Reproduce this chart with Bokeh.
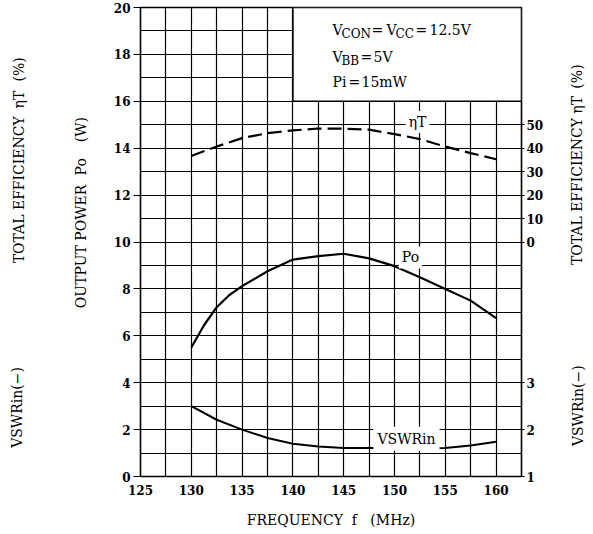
import numpy as np
from bokeh.plotting import figure
from bokeh.models import Range1d, LinearAxis, FixedTicker, Label, BoxAnnotation
from bokeh.layouts import row
from bokeh.embed import file_html
from bokeh.resources import INLINE

# ---------------- data ----------------
freq_po = [130, 131.25, 132.5, 133.75, 135, 137.5, 140, 142.5, 145, 147.5, 150, 152.5, 155, 157.5, 160]
po_w = [5.5, 6.45, 7.22, 7.74, 8.12, 8.75, 9.25, 9.4, 9.5, 9.3, 8.97, 8.5, 8.0, 7.5, 6.75]
freq_eta = [130, 132.5, 135, 137.5, 140, 142.5, 145, 147.5, 150, 152.5, 155, 157.5, 160]
eta_pct = [36.7, 40.7, 44.3, 46.4, 47.6, 48.4, 48.3, 47.9, 46.0, 43.9, 40.7, 37.9, 35.3]
freq_vswr = [130, 132.5, 135, 137.5, 140, 142.5, 145, 147.5, 150, 152.5, 155, 157.5, 160]
vswr_in = [2.5, 2.21, 2.0, 1.82, 1.70, 1.64, 1.61, 1.61, 1.60, 1.60, 1.61, 1.66, 1.74]

x_ticks = [125, 130, 135, 140, 145, 150, 155, 160]
po_ticks = [0, 2, 4, 6, 8, 10, 12, 14, 16, 18, 20]
eta_ticks = [0, 10, 20, 30, 40, 50]
vswr_ticks = [1, 2, 3]
x_grid = [125 + 2.5 * i for i in range(16)]
y_grid = list(range(0, 21))

# scale relations between the axes (Po scale is the main one)
def eta_to_po(e):
    return 10 + e / 10.0

def vswr_to_po(v):
    return 2.0 * (v - 1)

SERIF = "DejaVu Serif"
H = 530
NB = "\u00a0"

# ---------------- main chart ----------------
p = figure(width=460, height=H,
           x_range=Range1d(125, 162.5), y_range=Range1d(0, 20),
           output_backend="svg", toolbar_location=None,
           min_border_left=40, min_border_right=39,
           min_border_top=7, min_border_bottom=52)
p.extra_y_ranges = {"eta": Range1d(-100, 100), "vswr": Range1d(1, 11)}

p.outline_line_color = "black"
p.outline_line_width = 1.6
p.background_fill_color = "white"
p.border_fill_color = "white"

p.xgrid.ticker = FixedTicker(ticks=x_grid)
p.ygrid.ticker = FixedTicker(ticks=y_grid)
for g in (p.xgrid, p.ygrid):
    g.grid_line_color = "black"
    g.grid_line_width = 1.2
    g.grid_line_alpha = 1.0

def style_axis(ax):
    ax.minor_tick_line_color = None
    ax.axis_line_color = None
    ax.major_tick_in = 0
    ax.major_tick_line_width = 1.2
    ax.major_label_text_font = SERIF
    ax.major_label_text_font_style = "bold"
    ax.major_label_text_font_size = "12px"
    ax.major_label_text_color = "black"

xa = p.xaxis[0]
style_axis(xa)
xa.ticker = FixedTicker(ticks=x_ticks)
xa.major_tick_out = 0
xa.major_label_standoff = 8
xa.axis_label = "FREQUENCY" + NB * 2 + "f" + NB * 3 + "(MHz)"
xa.axis_label_text_font = SERIF
xa.axis_label_text_font_style = "normal"
xa.axis_label_text_font_size = "14px"
xa.axis_label_text_color = "black"
xa.axis_label_standoff = 14

ya = p.yaxis[0]
style_axis(ya)
ya.ticker = FixedTicker(ticks=po_ticks)
ya.major_tick_out = 7
ya.major_label_standoff = 3

r_pos = [int(round(eta_to_po(e))) for e in eta_ticks] + [int(round(vswr_to_po(v))) for v in vswr_ticks]
r_lab = [str(e) for e in eta_ticks] + [str(v) for v in vswr_ticks]
ra = LinearAxis(ticker=FixedTicker(ticks=r_pos),
                major_label_overrides=dict(zip(r_pos, r_lab)))
style_axis(ra)
ra.major_tick_out = 3
ra.major_label_standoff = 2
p.add_layout(ra, "right")

p.line(freq_po, po_w, line_color="black", line_width=2.2)
p.line(freq_eta, eta_pct, y_range_name="eta", line_color="black",
       line_width=2.2, line_dash="14 6")
p.line(freq_vswr, vswr_in, y_range_name="vswr", line_color="black", line_width=2.0)

# page-pixel helpers for the main frame (x 140..521, y 7..478 on the page)
FL, FR, FT, FB = 140.0, 521.0, 7.0, 478.0

def dx(px):
    return 125 + (px - FL) * 37.5 / (FR - FL)

def dy(py):
    return 20 - (py - FT) * 20.0 / (FB - FT)

p.add_layout(BoxAnnotation(left=140, right=162.5, bottom=16, top=20,
                           fill_color="white", fill_alpha=1.0,
                           line_color="black", line_width=1.6, line_alpha=1.0))

def lab(fig, text, x, y, size=14, align="left", baseline="alphabetic", angle=0.0, bg=None, pad=0):
    kw = {}
    if bg is not None:
        kw["background_fill_color"] = bg
        kw["background_fill_alpha"] = 1.0
        kw["padding"] = pad
    fig.add_layout(Label(x=x, y=y, text=text, text_font=SERIF,
                         text_font_size=f"{size}px", text_color="black",
                         text_align=align, text_baseline=baseline, angle=angle, **kw))

def mlab(text, px, py, size=14, **kw):
    lab(p, text, dx(px), dy(py), size, **kw)

MAIN, SUB = 14, 12
# VCON = VCC = 12.5V
mlab("V", 332, 30, MAIN)
mlab("CON", 341, 34, SUB)
mlab("=", 371, 30, MAIN)
mlab("V", 386, 30, MAIN)
mlab("CC", 395, 34, SUB)
mlab("=", 415, 30, MAIN)
mlab("12.5V", 429, 30, MAIN)
# VBB = 5V
mlab("V", 332, 57, MAIN)
mlab("BB", 341, 61, SUB)
mlab("=", 360, 57, MAIN)
mlab("5V", 373, 57, MAIN)
# Pi = 15mW
mlab("Pi", 332, 82, MAIN)
mlab("=", 348, 82, MAIN)
mlab("15mW", 361, 82, MAIN)

mlab("ηT", 417, 122, 14, align="center", baseline="middle", bg="white", pad=3)
mlab("Po", 410, 258, 14, align="center", baseline="middle", bg="white", pad=3)
mlab("VSWRin", 406, 440, 14, align="center", baseline="middle", bg="white", pad=4)

# ---------------- side strips for the vertical titles ----------------
def strip(x0, x1):
    f = figure(width=x1 - x0, height=H, x_range=Range1d(x0, x1), y_range=Range1d(0, H),
               output_backend="svg", toolbar_location=None,
               x_axis_location=None, y_axis_location=None, min_border=0)
    f.outline_line_color = None
    f.background_fill_color = "white"
    f.border_fill_color = "white"
    f.xgrid.grid_line_color = None
    f.ygrid.grid_line_color = None
    f.grid.visible = False
    return f

left = strip(0, 100)
right = strip(560, 593)
ROT = np.pi / 2

def slab(fig, text, px, py, size=14):
    lab(fig, text, px, H - py, size, align="center", baseline="middle", angle=ROT)

slab(left, "TOTAL EFFICIENCY", 18, 206)
slab(left, "ηT", 18, 104)
slab(left, "(%)", 18, 70)
slab(left, "OUTPUT POWER", 80, 270)
slab(left, "Po", 80, 180)
slab(left, "(W)", 80, 138)
slab(left, "VSWRin(−)", 16, 452)

slab(right, "TOTAL EFFICIENCY", 576, 208)
slab(right, "ηT", 576, 110)
slab(right, "(%)", 576, 78)
slab(right, "VSWRin(−)", 577, 450)

layout = row(left, p, right)
open("out.html", "w").write(file_html(layout, INLINE))
